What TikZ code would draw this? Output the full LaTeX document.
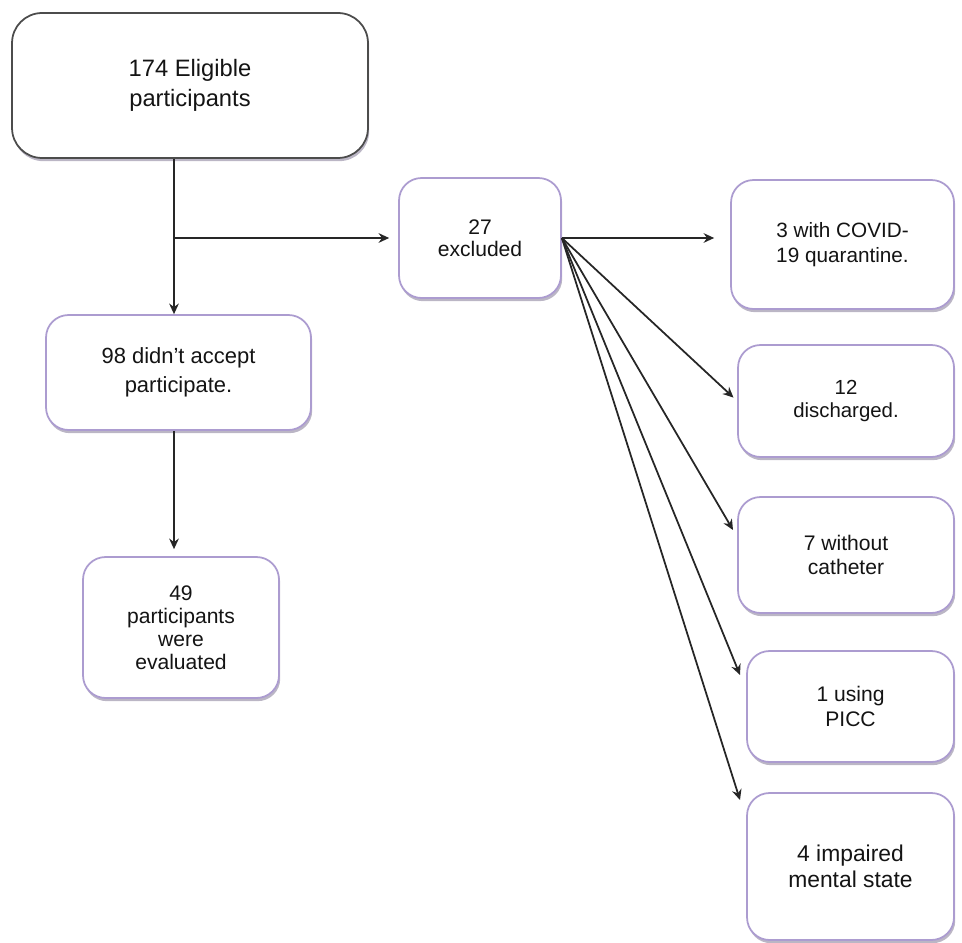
\documentclass[tikz,border=0pt]{standalone}
\usepackage{fontspec}
\setmainfont{Liberation Sans}
\usetikzlibrary{shadows,arrows.meta}

\definecolor{boxedge}{RGB}{172,156,208}
\definecolor{shadowcol}{RGB}{120,110,140}

\tikzset{
  box/.style={draw=boxedge,line width=1pt,rounded corners=0.45cm,fill=white,
    align=center,text=black!92,inner sep=0pt,
    drop shadow={shadow xshift=0.7pt,shadow yshift=-1.8pt,fill=shadowcol,opacity=0.5},
    font=\fontsize{12}{14}\selectfont},
  topbox/.style={box,draw=black!70,rounded corners=0.6cm,
    font=\fontsize{13.5}{17}\selectfont},
  conn/.style={->,line width=1pt,draw=black!85},
}

\begin{document}
\begin{tikzpicture}[>={Stealth[length=6pt,width=5.5pt]},x=0.02cm,y=-0.02cm]
\useasboundingbox (0,0) rectangle (962,942);
% left column
\node[topbox,minimum width=7.12cm,minimum height=2.9cm] (elig) at (190,85.5) {174 Eligible\\participants};
\node[box,minimum width=5.3cm,minimum height=2.3cm,font=\fontsize{12.5}{16.5}\selectfont] (declined) at (178.5,372.5) {98 didn't accept\\participate.};
\node[box,minimum width=3.92cm,minimum height=2.82cm,font=\fontsize{12}{13}\selectfont] (evaluated) at (181,627.5) {49\\participants\\were\\evaluated};
% excluded and reasons
\node[box,minimum width=3.24cm,minimum height=2.4cm,font=\fontsize{12}{12.8}\selectfont] (excluded) at (480,238) {27\\excluded};
\node[box,minimum width=4.46cm,minimum height=2.58cm,font=\fontsize{11.8}{14}\selectfont] (covid) at (842.5,244.5) {3 with COVID-\\19 quarantine.};
\node[box,minimum width=4.32cm,minimum height=2.24cm,font=\fontsize{11.6}{13}\selectfont] (discharged) at (846,401) {12\\discharged.};
\node[box,minimum width=4.32cm,minimum height=2.32cm] (catheter) at (846,555) {7 without\\catheter};
\node[box,minimum width=4.14cm,minimum height=2.22cm] (picc) at (850.5,706.5) {1 using\\PICC};
\node[box,minimum width=4.14cm,minimum height=2.94cm,font=\fontsize{13}{14.5}\selectfont] (mental) at (850.5,866.5) {4 impaired\\mental state};

\coordinate (trunk) at (174,238);
\coordinate (tipC) at (733,530);
\coordinate (tipD) at (740,675);
\coordinate (tipE) at (740,800);

\draw[conn] (trunk |- elig.south) -- (trunk |- declined.north);
\draw[conn,shorten >=0.18cm] (trunk) -- (excluded.west);
\draw[conn,shorten >=0.14cm] (trunk |- declined.south) -- (trunk |- evaluated.north);
\draw[conn,shorten >=0.32cm] (excluded.east) -- (excluded.east -| covid.west);
\draw[conn,shorten >=0.1cm] (excluded.east) -- (discharged.west);
\draw[conn] (excluded.east) -- (tipC);
\draw[conn] (excluded.east) -- (tipD);
\draw[conn] (excluded.east) -- (tipE);
\end{tikzpicture}
\end{document}
